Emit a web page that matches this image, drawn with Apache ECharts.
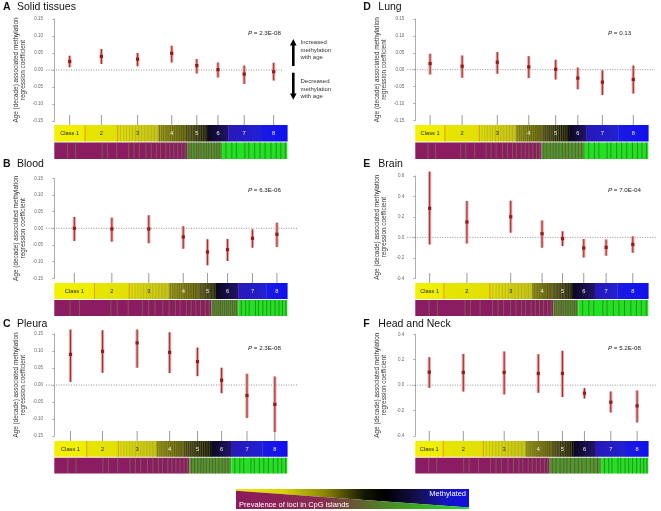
<!DOCTYPE html>
<html><head><meta charset="utf-8">
<script src="https://cdn.jsdelivr.net/npm/echarts@6/dist/echarts.min.js"></script>
<style>html,body{margin:0;padding:0;background:#fff}#c{width:661px;height:511px}</style>
</head><body><div id="c"></div>
<script>
// ---------------- DATA ----------------
const classLabels = ['Class 1', '2', '3', '4', '5', '6', '7', '8'];
const letters = ['A', 'B', 'C', 'D', 'E', 'F'];
const titles = ['Solid tissues', 'Blood', 'Pleura', 'Lung', 'Brain', 'Head and Neck'];
const pValues = ['2.3E-08', '6.3E-06', '2.3E-08', '0.13', '7.0E-04', '5.2E-08'];

// regression coefficients and interval ends per class
const coefA = [0.025, 0.040, 0.032, 0.049, 0.013, 0.001, -0.012, -0.005];
const lowA  = [0.008, 0.018, 0.011, 0.022, -0.010, -0.022, -0.041, -0.031];
const highA = [0.042, 0.062, 0.050, 0.071, 0.032, 0.022, 0.013, 0.021];

const coefB = [0.000, -0.002, -0.002, -0.026, -0.071, -0.064, -0.030, -0.018];
const lowB  = [-0.038, -0.040, -0.045, -0.061, -0.111, -0.098, -0.058, -0.056];
const highB = [0.034, 0.032, 0.039, 0.006, -0.033, -0.032, -0.003, 0.017];

const coefC = [0.090, 0.099, 0.124, 0.096, 0.069, 0.014, -0.031, -0.057];
const lowC  = [0.009, 0.036, 0.051, 0.035, 0.026, -0.024, -0.097, -0.138];
const highC = [0.163, 0.161, 0.163, 0.155, 0.110, 0.051, 0.033, 0.025];

const coefD = [0.018, 0.010, 0.022, 0.008, 0.001, -0.025, -0.037, -0.029];
const lowD  = [-0.014, -0.024, -0.012, -0.025, -0.029, -0.058, -0.075, -0.071];
const highD = [0.047, 0.042, 0.052, 0.040, 0.029, 0.006, -0.002, 0.012];

const coefE = [0.284, 0.150, 0.202, 0.036, -0.013, -0.104, -0.098, -0.069];
const lowE  = [-0.069, -0.059, 0.046, -0.101, -0.085, -0.196, -0.179, -0.150];
const highE = [0.643, 0.356, 0.359, 0.166, 0.059, -0.016, -0.020, 0.010];

const coefF = [0.102, 0.100, 0.100, 0.092, 0.092, -0.063, -0.134, -0.163];
const lowF  = [-0.021, -0.050, -0.073, -0.060, -0.094, -0.105, -0.215, -0.294];
const highF = [0.220, 0.246, 0.265, 0.244, 0.270, -0.024, -0.050, -0.042];

// cumulative fraction of loci at class boundaries
const boundsA = [0, 0.132, 0.272, 0.443, 0.565, 0.658, 0.747, 0.883, 1];
const boundsB = [0, 0.172, 0.322, 0.489, 0.618, 0.697, 0.790, 0.911, 1];
const boundsC = [0, 0.139, 0.275, 0.436, 0.554, 0.675, 0.761, 0.893, 1];
const boundsD = [0, 0.127, 0.275, 0.429, 0.545, 0.660, 0.735, 0.871, 1];
const boundsE = [0, 0.123, 0.320, 0.499, 0.589, 0.675, 0.771, 0.867, 1];
const boundsF = [0, 0.120, 0.292, 0.471, 0.585, 0.678, 0.774, 0.904, 1];

// CpG island prevalence bar: [end of island-rich zone, start of island-poor zone]
const cpgA = [0.57, 0.72];
const cpgB = [0.675, 0.79];
const cpgC = [0.58, 0.76];
const cpgD = [0.542, 0.728];
const cpgE = [0.592, 0.70];
const cpgF = [0.577, 0.80];

// y axis ranges [min, max, interval, decimals]
const yRangeSmall = [-0.15, 0.15, 0.05, 2];
const yRangeE = [-0.4, 0.6, 0.2, 1];
const yRangeF = [-0.4, 0.4, 0.2, 1];

// ---------------- STYLE / LAYOUT ----------------
const FONT = "'Liberation Sans', Arial, Helvetica, sans-serif";
const classColors = [
  ['#f4f000', '#eeee00'],
  ['#e8e600', '#e0e004'],
  ['#e0de10', '#c4c21a'],
  ['#a8a622', '#6e6c16'],
  ['#4a4818', '#0c0c06'],
  ['#0a0820', '#22146a'],
  ['#2818b8', '#2020d2'],
  ['#1a1ae2', '#1010f0']
];
const classText = ['#222', '#222', '#222', '#eee', '#eee', '#eee', '#eee', '#eee'];
const streakTex = [0.07, 0.15, 0.22, 0.3, 0.37, 0.45, 0.53, 0.6, 0.68, 0.76, 0.84, 0.92];
const magTex = [0.1, 0.16, 0.36, 0.4, 0.47, 0.56, 0.6, 0.64, 0.69, 0.73, 0.77, 0.8, 0.84, 0.87, 0.9, 0.93, 0.96, 0.985];
const mixTex = [0.05, 0.12, 0.2, 0.27, 0.33, 0.4, 0.48, 0.55, 0.62, 0.7, 0.78, 0.85, 0.92];
const grnTex = [0.06, 0.15, 0.22, 0.35, 0.41, 0.5, 0.58, 0.66, 0.75, 0.83, 0.9, 0.97];

const cols = [
  {axisX: 46, barL: 54.3, barR: 287.3, gridR: 297, letterX: 3, titleX: 17, pX: 248},
  {axisX: 407.3, barL: 415.3, barR: 648.3, gridR: 657, letterX: 363.3, titleX: 378.3, pX: 608}
];

const panels = [
  {coef: coefA, lo: lowA, hi: highA, bounds: boundsA, cpg: cpgA, yr: yRangeSmall, col: 0, top: 19, bottom: 121, barTop: 125, barBottom: 159, titleY: 7.3, pY: 33.3, zeroEnd: 283},
  {coef: coefB, lo: lowB, hi: highB, bounds: boundsB, cpg: cpgB, yr: yRangeSmall, col: 0, top: 178.3, bottom: 278.3, barTop: 283, barBottom: 316, titleY: 165, pY: 190.7},
  {coef: coefC, lo: lowC, hi: highC, bounds: boundsC, cpg: cpgC, yr: yRangeSmall, col: 0, top: 334, bottom: 436, barTop: 441, barBottom: 473.5, titleY: 325, pY: 348.3},
  {coef: coefD, lo: lowD, hi: highD, bounds: boundsD, cpg: cpgD, yr: yRangeSmall, col: 1, top: 19, bottom: 120.3, barTop: 125, barBottom: 159, titleY: 7.3, pY: 33.3, zeroEnd: 655},
  {coef: coefE, lo: lowE, hi: highE, bounds: boundsE, cpg: cpgE, yr: yRangeE, col: 1, top: 176, bottom: 278.3, barTop: 283, barBottom: 316, titleY: 165, pY: 190.7},
  {coef: coefF, lo: lowF, hi: highF, bounds: boundsF, cpg: cpgF, yr: yRangeF, col: 1, top: 334.3, bottom: 436, barTop: 441, barBottom: 473.5, titleY: 325, pY: 348.3}
];

const grid = [], xAxis = [], yAxis = [], series = [], graphic = [];

panels.forEach((p, i) => {
  const L = cols[p.col];
  const bw = L.barR - L.barL;
  const xmin = -(L.barL - L.axisX) / bw;
  const xmax = 1 + (L.gridR - L.barR) / bw;
  const gi = 2 * i, bi = 2 * i + 1;
  grid.push({left: L.axisX, width: L.gridR - L.axisX, top: p.top, height: p.bottom - p.top});
  grid.push({left: L.axisX, width: L.gridR - L.axisX, top: p.barTop, height: p.barBottom - p.barTop});
  xAxis.push({gridIndex: gi, type: 'value', min: xmin, max: xmax, show: false});
  xAxis.push({gridIndex: bi, type: 'value', min: xmin, max: xmax, show: false});
  const dec = p.yr[3];
  yAxis.push({
    gridIndex: gi, type: 'value', min: p.yr[0], max: p.yr[1], interval: p.yr[2],
    axisLine: {show: true, lineStyle: {color: '#999', width: 0.8}},
    axisTick: {show: true, length: 2, lineStyle: {color: '#999', width: 0.8}},
    splitLine: {show: false},
    axisLabel: {fontSize: 4.5, color: '#666', margin: 3, fontFamily: FONT,
      formatter: v => (Math.abs(v) < 1e-9 ? 0 : v).toFixed(dec)},
    name: 'Age (decade) associated methylation\nregression coefficient',
    nameLocation: 'middle', nameGap: 19,
    nameTextStyle: {fontSize: 6.4, lineHeight: 7.5, color: '#333', fontFamily: FONT, align: 'center'}
  });
  yAxis.push({gridIndex: bi, type: 'value', min: 0, max: 2.06, show: false});

  // zero reference line
  series.push({
    type: 'line', xAxisIndex: gi, yAxisIndex: gi, silent: true, symbol: 'none',
    data: [[xmin, 0], [p.zeroEnd != null ? (p.zeroEnd - L.barL) / bw : xmax, 0]],
    lineStyle: {color: '#777', width: 0.8, type: [1, 1.5]}, z: 1
  });

  // error bars
  const b = p.bounds;
  series.push({
    type: 'custom', xAxisIndex: gi, yAxisIndex: gi, clip: false, silent: true, z: 3,
    data: p.coef.map((c, k) => [(b[k] + b[k + 1]) / 2, c, p.lo[k], p.hi[k]]),
    renderItem: (params, api) => {
      const x = api.value(0);
      const pc = api.coord([x, api.value(1)]);
      const pl = api.coord([x, api.value(2)]);
      const ph = api.coord([x, api.value(3)]);
      return {type: 'group', children: [
        {type: 'rect', shape: {x: pc[0] - 1.6, y: ph[1], width: 3.2, height: pl[1] - ph[1]}, style: {fill: '#e4a4a4'}},
        {type: 'line', shape: {x1: pc[0], y1: ph[1], x2: pc[0], y2: pl[1]}, style: {stroke: '#a83030', lineWidth: 1.1}},
        {type: 'rect', shape: {x: pc[0] - 1.6, y: pc[1] - 1.6, width: 3.2, height: 3.2}, style: {fill: '#9a1818'}}
      ]};
    }
  });

  // class bar
  series.push({
    type: 'custom', xAxisIndex: bi, yAxisIndex: bi, clip: false, silent: true,
    data: classLabels.map((l, k) => [b[k], b[k + 1], k]),
    renderItem: (params, api) => {
      const k = api.value(2);
      const a = api.coord([api.value(0), 2.06]);
      const c = api.coord([api.value(1), 1.06]);
      const w = c[0] - a[0], h = c[1] - a[1];
      const mid = (a[0] + c[0]) / 2;
      const ch = [];
      ch.push({type: 'rect', shape: {x: a[0], y: a[1], width: w + 0.3, height: h},
        style: {fill: new echarts.graphic.LinearGradient(0, 0, 1, 0, [
          {offset: 0, color: classColors[k][0]}, {offset: 1, color: classColors[k][1]}])}});
      if (k >= 2 && k <= 4) {
        const sc = k === 2 ? 'rgba(150,140,0,0.35)' : (k === 3 ? 'rgba(60,60,10,0.45)' : 'rgba(150,150,70,0.45)');
        streakTex.forEach(t => ch.push({type: 'line', shape: {x1: a[0] + t * w, y1: a[1], x2: a[0] + t * w, y2: a[1] + h},
          style: {stroke: sc, lineWidth: 1}}));
      }
      if (k >= 1 && k <= 2) {
        ch.push({type: 'line', shape: {x1: a[0], y1: a[1], x2: a[0], y2: a[1] + h}, style: {stroke: 'rgba(210,90,30,0.7)', lineWidth: 0.8}});
      }
      ch.push({type: 'text', style: {text: classLabels[k], x: mid, y: a[1] + h / 2 + 0.5, align: 'center', verticalAlign: 'middle',
        fontSize: 5.7, fill: classText[k], fontFamily: FONT}});
      ch.push({type: 'line', shape: {x1: mid, y1: a[1] - 10, x2: mid, y2: a[1]}, style: {stroke: '#9a9a9a', lineWidth: 1}});
      return {type: 'group', children: ch};
    }
  });

  // CpG prevalence bar
  series.push({
    type: 'custom', xAxisIndex: bi, yAxisIndex: bi, clip: false, silent: true,
    data: [[0, 1, p.cpg[0], p.cpg[1]]],
    renderItem: (params, api) => {
      const s = api.coord([api.value(0), 1]);
      const e = api.coord([api.value(1), 0]);
      const m = api.coord([api.value(2), 0])[0];
      const g = api.coord([api.value(3), 0])[0];
      const y = s[1], h = e[1] - s[1];
      const ch = [
        {type: 'rect', shape: {x: s[0], y, width: m - s[0], height: h}, style: {fill: '#8c1c62'}},
        {type: 'rect', shape: {x: m, y, width: g - m, height: h}, style: {fill: '#4a9a2c'}},
        {type: 'rect', shape: {x: g, y, width: e[0] - g, height: h}, style: {fill: '#22e022'}}
      ];
      magTex.forEach(t => { const x = s[0] + t * (m - s[0]);
        ch.push({type: 'line', shape: {x1: x, y1: y, x2: x, y2: y + h}, style: {stroke: 'rgba(120,120,80,0.75)', lineWidth: 0.9}}); });
      mixTex.forEach(t => { const x = m + t * (g - m);
        ch.push({type: 'line', shape: {x1: x, y1: y, x2: x, y2: y + h}, style: {stroke: 'rgba(110,70,60,0.75)', lineWidth: 1}}); });
      grnTex.forEach(t => { const x = g + t * (e[0] - g);
        ch.push({type: 'line', shape: {x1: x, y1: y, x2: x, y2: y + h}, style: {stroke: 'rgba(50,120,40,0.8)', lineWidth: 1}}); });
      return {type: 'group', children: ch};
    }
  });

  // panel title and P value
  graphic.push({type: 'text', left: L.letterX, top: p.titleY - 6,
    style: {text: letters[i], fontSize: 10.5, fontWeight: 'bold', fill: '#111', fontFamily: FONT}});
  graphic.push({type: 'text', left: L.titleX, top: p.titleY - 6,
    style: {text: titles[i], fontSize: 10.5, fill: '#111', fontFamily: FONT}});
  graphic.push({type: 'text', x: L.pX, y: p.pY, style: {
    text: '{i|P} = ' + pValues[i], verticalAlign: 'middle', fontSize: 6.2, fill: '#222', fontFamily: FONT,
    rich: {i: {fontStyle: 'italic', fontSize: 6.2, fill: '#222', fontFamily: FONT}}}});
});

// arrows in panel A
graphic.push(
  {type: 'rect', shape: {x: 292, y: 44, width: 2.6, height: 22}, style: {fill: '#000'}},
  {type: 'polygon', shape: {points: [[293.3, 39], [290, 45.5], [296.6, 45.5]]}, style: {fill: '#000'}},
  {type: 'rect', shape: {x: 292, y: 72.7, width: 2.6, height: 21.5}, style: {fill: '#000'}},
  {type: 'polygon', shape: {points: [[290, 93.5], [296.6, 93.5], [293.3, 99.8]]}, style: {fill: '#000'}},
  {type: 'text', x: 300.5, y: 39, style: {text: 'Increased\nmethylation\nwith age', fontSize: 6, lineHeight: 7.3, fill: '#333', fontFamily: FONT}},
  {type: 'text', x: 300.5, y: 78, style: {text: 'Decreased\nmethylation\nwith age', fontSize: 6, lineHeight: 7.3, fill: '#333', fontFamily: FONT}}
);

// colour key
graphic.push(
  {type: 'polygon', shape: {points: [[236, 489], [469, 489], [469, 507.5], [236, 490.8]]},
    style: {fill: new echarts.graphic.LinearGradient(0, 0, 1, 0, [
      {offset: 0, color: '#eee800'}, {offset: 0.2, color: '#d8d400'}, {offset: 0.38, color: '#8a8800'},
      {offset: 0.55, color: '#151505'}, {offset: 0.64, color: '#000000'}, {offset: 0.78, color: '#141050'},
      {offset: 0.9, color: '#1414c0'}, {offset: 1, color: '#1010e4'}])}},
  {type: 'polygon', shape: {points: [[236, 490.8], [469, 507.5], [469, 509], [236, 509]]},
    style: {fill: new echarts.graphic.LinearGradient(0, 0, 1, 0, [
      {offset: 0, color: '#8c1a5c'}, {offset: 0.35, color: '#8a2a52'}, {offset: 0.5, color: '#6a5434'},
      {offset: 0.65, color: '#4a8a24'}, {offset: 1, color: '#22e022'}])}},
  {type: 'text', x: 466, y: 494, style: {text: 'Methylated', align: 'right', verticalAlign: 'middle', fontSize: 7.5, fill: '#fff', fontFamily: FONT}},
  {type: 'text', x: 239, y: 504.5, style: {text: 'Prevalence of loci in CpG islands', verticalAlign: 'middle', fontSize: 7.5, fill: '#fff', fontFamily: FONT}}
);

const chart = echarts.init(document.getElementById('c'), null, {renderer: 'canvas'});
chart.setOption({animation: false, backgroundColor: '#fff', grid, xAxis, yAxis, series, graphic});
</script></body></html>
